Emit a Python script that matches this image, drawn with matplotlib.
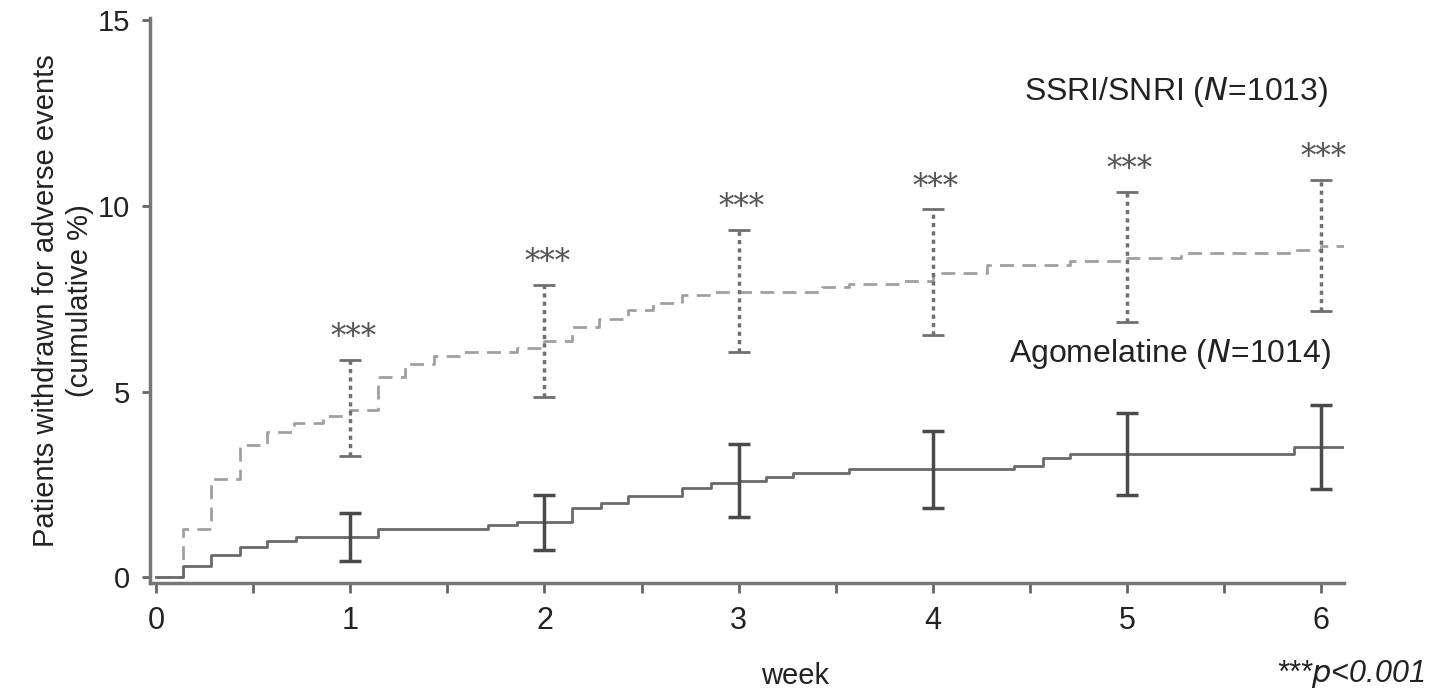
import matplotlib
matplotlib.use('Agg')
import matplotlib.pyplot as plt

plt.rcParams['font.family'] = ['Liberation Sans', 'DejaVu Sans']

# Kaplan-Meier style cumulative withdrawals (%), step positions in weeks
ago_t = [0, 0.14, 0.28, 0.43, 0.57, 0.72, 1.14, 1.71, 1.86, 2.14, 2.29, 2.43,
         2.71, 2.86, 3.0, 3.14, 3.28, 3.57, 4.42, 4.57, 4.71, 5.86, 6.12]
ago_y = [0, 0.30, 0.59, 0.81, 0.97, 1.08, 1.30, 1.41, 1.49, 1.86, 2.00, 2.20,
         2.41, 2.54, 2.60, 2.70, 2.81, 2.91, 3.00, 3.20, 3.31, 3.51, 3.51]

ssri_t = [0, 0.14, 0.28, 0.43, 0.57, 0.71, 0.86, 1.0, 1.14, 1.28, 1.43, 1.57,
          1.86, 2.0, 2.14, 2.28, 2.43, 2.56, 2.71, 2.86, 3.43, 3.57, 3.85, 4.0,
          4.28, 4.71, 5.0, 5.28, 5.85, 6.0, 6.12]
ssri_y = [0, 1.30, 2.65, 3.57, 3.92, 4.14, 4.35, 4.49, 5.38, 5.73, 5.95, 6.05,
          6.16, 6.35, 6.73, 6.95, 7.19, 7.38, 7.59, 7.68, 7.81, 7.89, 7.97, 8.2,
          8.41, 8.5, 8.6, 8.73, 8.81, 8.92, 8.92]

weeks = [1, 2, 3, 4, 5, 6]
ago_mid = [1.08, 1.48, 2.60, 2.90, 3.32, 3.51]
ago_lo = [0.43, 0.73, 1.62, 1.86, 2.22, 2.38]
ago_hi = [1.73, 2.22, 3.59, 3.95, 4.43, 4.65]

ssri_mid = [4.55, 6.36, 7.70, 8.20, 8.60, 8.93]
ssri_lo = [3.27, 4.86, 6.05, 6.51, 6.86, 7.16]
ssri_hi = [5.84, 7.86, 9.35, 9.90, 10.37, 10.70]

fig = plt.figure(figsize=(14.33, 6.98), dpi=100)
ax = fig.add_axes([0.105, 0.165, 0.833, 0.809])

ax.step(ssri_t, ssri_y, where='post', color='#a0a0a0', lw=2,
        dashes=(5, 3))
ax.step(ago_t, ago_y, where='post', color='#6a6a6a', lw=2)

err_s = ax.errorbar(weeks, ssri_mid,
                    yerr=[[m - l for m, l in zip(ssri_mid, ssri_lo)],
                          [h - m for m, h in zip(ssri_mid, ssri_hi)]],
                    fmt='none', ecolor='#707070', elinewidth=2.5,
                    capsize=8, capthick=2)
for bl in err_s[2]:
    bl.set_linestyle((0, (1.2, 1.2)))

ax.errorbar(weeks, ago_mid,
            yerr=[[m - l for m, l in zip(ago_mid, ago_lo)],
                  [h - m for m, h in zip(ago_mid, ago_hi)]],
            fmt='none', ecolor='#4a4a4a', elinewidth=2.5,
            capsize=8, capthick=2.5)

for w, h in zip(weeks, ssri_hi):
    ax.annotate('***', (w, h), xytext=(2, 5), textcoords='offset points',
                ha='center', va='bottom', fontsize=22, color='#555555',
                family='DejaVu Serif')

ax.text(6.04, 13.05, 'SSRI/SNRI ($\\it{N}$=1013)', ha='right', va='center',
        fontsize=23, color='#222222')
ax.text(6.05, 6.0, 'Agomelatine ($\\it{N}$=1014)', ha='right', va='center',
        fontsize=23, color='#222222')

ax.set_xlim(-0.03, 6.12)
ax.set_ylim(-0.15, 15.05)
ax.set_xticks([0, 1, 2, 3, 4, 5, 6])
ax.set_xticks([0.5, 1.5, 2.5, 3.5, 4.5, 5.5], minor=True)
ax.set_yticks([0, 5, 10, 15])

for s in ['top', 'right']:
    ax.spines[s].set_visible(False)
for s in ['left', 'bottom']:
    ax.spines[s].set_color('#777777')
    ax.spines[s].set_linewidth(2.5)

ax.tick_params(axis='x', which='both', direction='out', length=7, width=2,
               color='#666666', labelsize=22, labelcolor='#222222', pad=10)
ax.tick_params(axis='y', direction='out', length=6, width=2,
               color='#666666', labelsize=21, labelcolor='#222222', pad=9)

fig.text(0.044, 0.57, 'Patients withdrawn for adverse events\n(cumulative %)',
         rotation=90, ha='center', va='center', fontsize=21,
         color='#222222', linespacing=1.3)
fig.text(0.555, 0.012, 'week', ha='center', va='bottom', fontsize=21,
         color='#222222')
fig.text(0.994, 0.012, '***$\\it{p}$<0.001', ha='right', va='bottom',
         fontsize=22, color='#222222', style='italic')

plt.savefig('out.png')
